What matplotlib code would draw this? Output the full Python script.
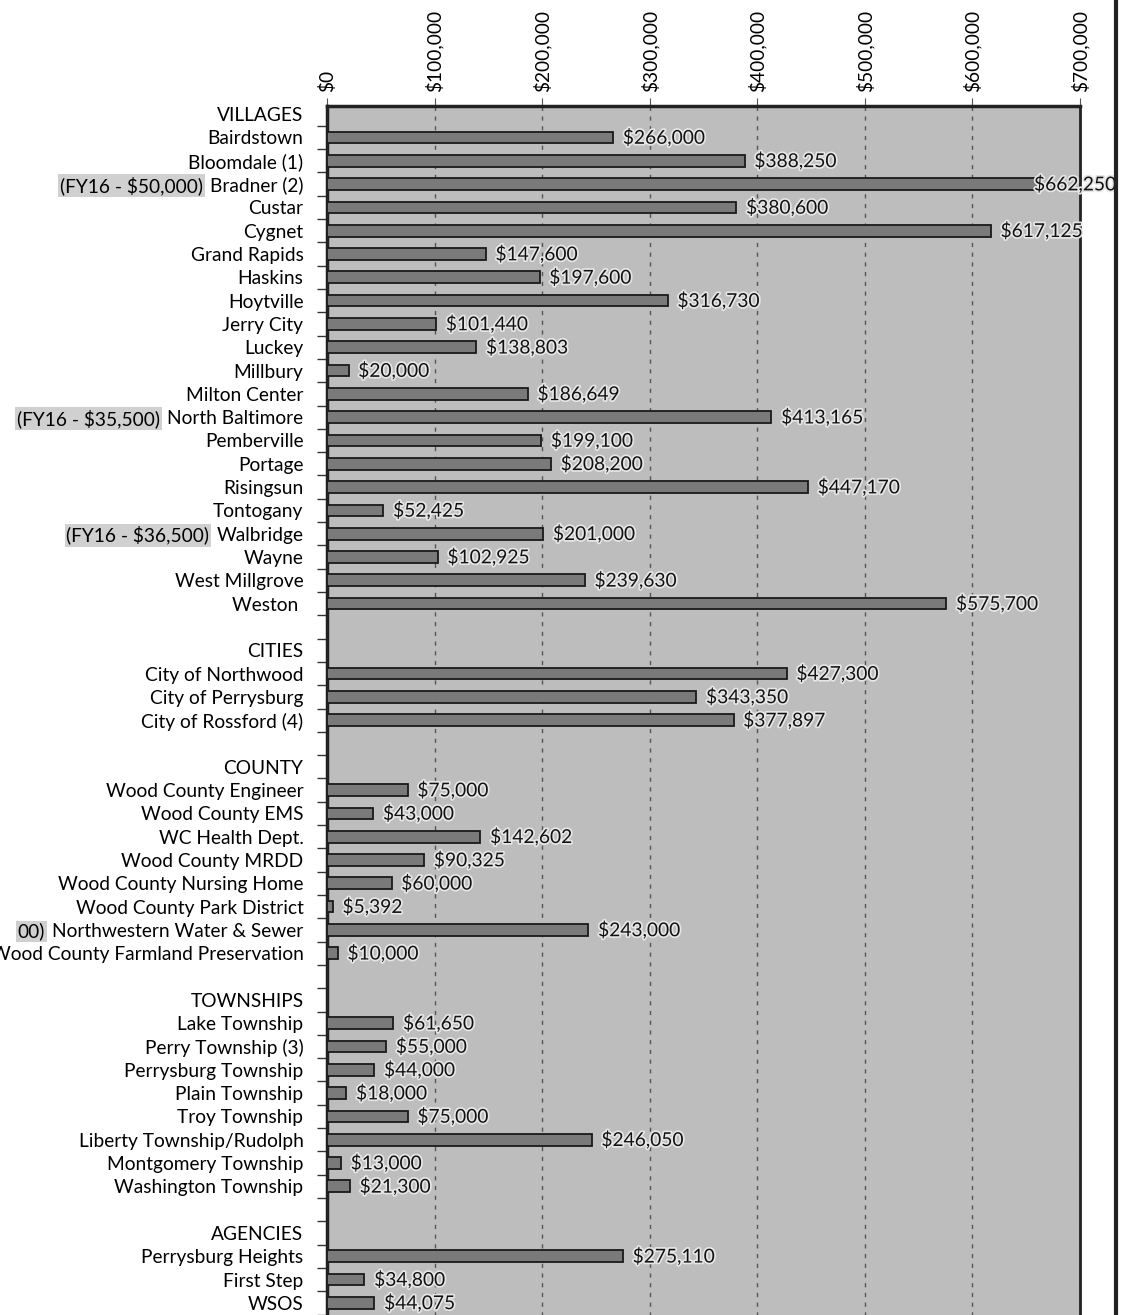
import matplotlib
import numpy as np
from matplotlib import pyplot as plt
from matplotlib import patheffects as pe

matplotlib.use('Agg')

# Rows top to bottom; empty label marks a spacer row, headers have no value
labels = ['VILLAGES', 'Bairdstown', 'Bloomdale (1)', 'Bradner (2)', 'Custar', 'Cygnet',
          'Grand Rapids', 'Haskins', 'Hoytville', 'Jerry City', 'Luckey', 'Millbury',
          'Milton Center', 'North Baltimore', 'Pemberville', 'Portage', 'Risingsun',
          'Tontogany', 'Walbridge', 'Wayne', 'West Millgrove', 'Weston ',
          '', 'CITIES', 'City of Northwood', 'City of Perrysburg', 'City of Rossford (4)',
          '', 'COUNTY', 'Wood County Engineer', 'Wood County EMS', 'WC Health Dept.',
          'Wood County MRDD', 'Wood County Nursing Home', 'Wood County Park District',
          'Northwestern Water & Sewer', 'Wood County Farmland Preservation',
          '', 'TOWNSHIPS', 'Lake Township', 'Perry Township (3)', 'Perrysburg Township',
          'Plain Township', 'Troy Township', 'Liberty Township/Rudolph',
          'Montgomery Township', 'Washington Township',
          '', 'AGENCIES', 'Perrysburg Heights', 'First Step', 'WSOS']

values = [None, 266000, 388250, 662250, 380600, 617125,
          147600, 197600, 316730, 101440, 138803, 20000,
          186649, 413165, 199100, 208200, 447170,
          52425, 201000, 102925, 239630, 575700,
          None, None, 427300, 343350, 377897,
          None, None, 75000, 43000, 142602,
          90325, 60000, 5392,
          243000, 10000,
          None, None, 61650, 55000, 44000,
          18000, 75000, 246050,
          13000, 21300,
          None, None, 275110, 34800, 44075]

# highlighted FY16 notes in front of some labels
prefixes = {'Bradner (2)': '(FY16 - $50,000)',
            'North Baltimore': '(FY16 - $35,500)',
            'Walbridge': '(FY16 - $36,500)',
            'Northwestern Water & Sewer': '00)'}

xticks = [0, 100000, 200000, 300000, 400000, 500000, 600000, 700000]

W, H = 1121, 1315
fig = plt.figure(figsize=(W / 100, H / 100), dpi=100)
plt.rcParams['font.family'] = ['Lato', 'DejaVu Sans']
FS = 13.8

ax_top, ax_bottom, ax_left, ax_right = 106, 1318, 327, 1080
ax = fig.add_axes([ax_left / W, 1 - ax_bottom / H, (ax_right - ax_left) / W, (ax_bottom - ax_top) / H])
ax.set_facecolor('#bdbdbd')

n = len(labels)
y = np.arange(n)
for yi, v in zip(y, values):
    if v is None:
        continue
    ax.barh(yi, v, height=0.5, color='#7a7a7a', edgecolor='#1a1a1a', linewidth=1.3, zorder=3)
    # label would run off the page, so Excel tucked it onto the bar end
    lx = v - 5000 if v > 650000 else v + 9000
    ax.text(lx, yi, f'${v:,.0f}', va='center', ha='left', fontsize=FS, color='#111111',
            clip_on=False, zorder=4,
            path_effects=[pe.withStroke(linewidth=2.5, foreground='#e6e6e6')])

ax.set_xlim(0, 700000)
ax.set_ylim(n - 1 + 0.65, -0.35)

ax.xaxis.tick_top()
ax.set_xticks(xticks)
ax.set_xticklabels([f'${t:,.0f}' for t in xticks], rotation=90, fontsize=FS)
ax.tick_params(axis='x', length=6, color='#555555', pad=4)
ax.xaxis.grid(True, linestyle=(0, (3, 4)), color='#555555', linewidth=1.0, zorder=1)

ax.set_yticks(y)
ax.set_yticklabels(labels, fontsize=FS)
ax.tick_params(axis='y', which='major', length=0, pad=17)
ax.set_yticks(np.arange(n) + 0.5, minor=True)
ax.tick_params(axis='y', which='minor', length=7, width=1, color='#333333')

for side in ['left', 'top', 'right', 'bottom']:
    ax.spines[side].set_color('#222222')
ax.spines['left'].set_linewidth(2.5)
ax.spines['top'].set_linewidth(2.5)
ax.spines['right'].set_linewidth(2.0)

for tl in ax.get_yticklabels():
    txt = tl.get_text()
    if txt in prefixes:
        ax.annotate(prefixes[txt], xy=(0, 0.5), xycoords=tl, xytext=(-5, 0),
                    textcoords='offset points', ha='right', va='center', fontsize=FS,
                    bbox=dict(boxstyle='square,pad=0.1', facecolor='#d0d0d0', edgecolor='none'))

# page edge visible in the scan
fig.add_artist(plt.Line2D([1116 / W, 1116 / W], [0, 1], color='#222222', linewidth=3))

fig.savefig('out.png', dpi=100)
